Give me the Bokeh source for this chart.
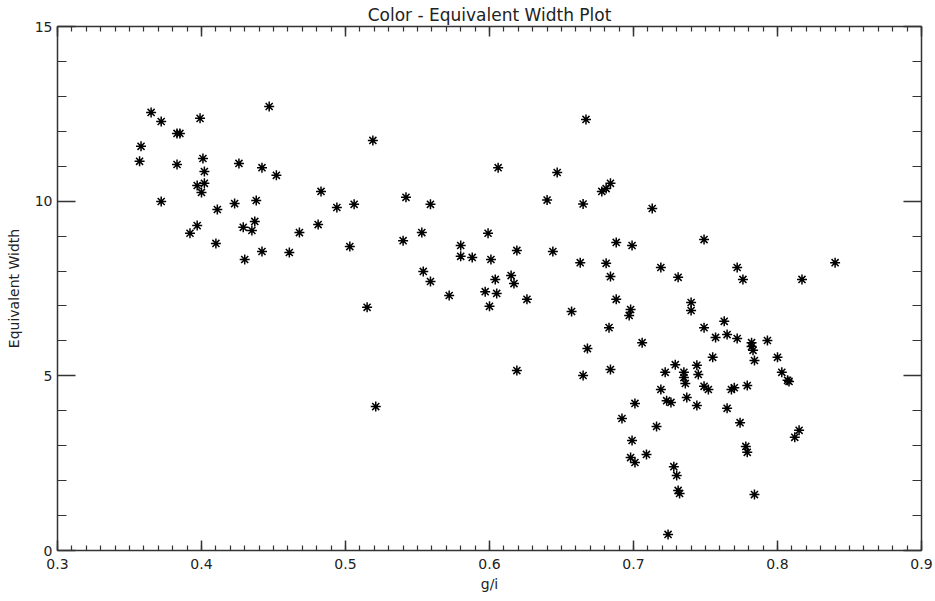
from bokeh.plotting import figure
from bokeh.models import Range1d, LinearAxis, FixedTicker
from bokeh.embed import file_html
from bokeh.resources import INLINE

# g/i colour values
gi = [0.358, 0.357, 0.365, 0.372, 0.383, 0.385, 0.399, 0.447, 0.383, 0.401,
      0.402, 0.426, 0.442, 0.452, 0.397, 0.402, 0.400, 0.483, 0.372, 0.411,
      0.423, 0.438, 0.397, 0.392, 0.429, 0.435, 0.437, 0.468, 0.481, 0.410,
      0.442, 0.430, 0.461,
      0.519, 0.667, 0.606, 0.647, 0.678, 0.681, 0.684, 0.640, 0.494, 0.506,
      0.542, 0.559, 0.665, 0.503, 0.540, 0.553, 0.599, 0.580, 0.580, 0.588,
      0.601, 0.619, 0.644, 0.663, 0.681, 0.688, 0.684, 0.554, 0.559, 0.604,
      0.615, 0.617, 0.572, 0.597, 0.605, 0.626, 0.600, 0.515, 0.657, 0.688,
      0.683, 0.668, 0.619, 0.665, 0.684, 0.521,
      0.713, 0.699, 0.749, 0.719, 0.731, 0.772, 0.776, 0.817, 0.840, 0.698,
      0.697, 0.740, 0.740, 0.749, 0.763, 0.757, 0.765, 0.772, 0.782, 0.782,
      0.783, 0.793, 0.706, 0.755, 0.784, 0.800, 0.803, 0.807, 0.808, 0.722,
      0.729, 0.735, 0.735, 0.736, 0.744, 0.745, 0.749, 0.752, 0.768, 0.770,
      0.779, 0.719, 0.723, 0.726, 0.737, 0.744, 0.765, 0.774, 0.692, 0.701,
      0.716, 0.699, 0.778, 0.779, 0.812, 0.815, 0.698, 0.701, 0.709, 0.728,
      0.730, 0.731, 0.732, 0.784, 0.724]

# equivalent width values
ew = [11.57, 11.14, 12.54, 12.28, 11.94, 11.94, 12.37, 12.71, 11.05, 11.22,
      10.85, 11.08, 10.96, 10.74, 10.45, 10.51, 10.25, 10.28, 9.99, 9.76,
      9.93, 10.02, 9.30, 9.08, 9.25, 9.16, 9.42, 9.10, 9.33, 8.79,
      8.56, 8.33, 8.53,
      11.74, 12.34, 10.96, 10.82, 10.28, 10.36, 10.51, 10.03, 9.82, 9.91,
      10.11, 9.91, 9.92, 8.70, 8.87, 9.10, 9.08, 8.73, 8.42, 8.39,
      8.33, 8.59, 8.56, 8.24, 8.22, 8.82, 7.84, 7.99, 7.70, 7.76,
      7.87, 7.64, 7.30, 7.41, 7.36, 7.19, 6.99, 6.96, 6.84, 7.19,
      6.38, 5.78, 5.15, 5.01, 5.18, 4.12,
      9.79, 8.73, 8.90, 8.10, 7.82, 8.10, 7.76, 7.76, 8.24, 6.90,
      6.73, 7.10, 6.87, 6.38, 6.56, 6.10, 6.18, 6.07, 5.95, 5.84,
      5.73, 6.01, 5.95, 5.53, 5.44, 5.53, 5.10, 4.87, 4.84, 5.10,
      5.32, 5.10, 4.95, 4.78, 5.30, 5.04, 4.70, 4.61, 4.61, 4.66,
      4.72, 4.61, 4.29, 4.24, 4.38, 4.15, 4.07, 3.66, 3.78, 4.21,
      3.55, 3.15, 2.98, 2.81, 3.24, 3.44, 2.66, 2.52, 2.75, 2.40,
      2.15, 1.72, 1.63, 1.60, 0.46]

x_ticks = [0.3, 0.4, 0.5, 0.6, 0.7, 0.8, 0.9]
x_tick_labels = ["0.3", "0.4", "0.5", "0.6", "0.7", "0.8", "0.9"]
x_minor = [round(0.3 + i * 0.01, 2) for i in range(61)]
y_ticks = [0, 5, 10, 15]
y_tick_labels = ["0", "5", "10", "15"]
y_minor = list(range(16))

TXT = "#222222"
AX = "#333333"
FONT = "DejaVu Sans"

p = figure(width=935, height=601, output_backend="svg", toolbar_location=None,
           x_range=Range1d(0.3, 0.9), y_range=Range1d(0, 15),
           min_border_left=57, min_border_right=14, min_border_top=0,
           min_border_bottom=51, x_axis_label="g/i", y_axis_label="Equivalent Width",
           title="Color - Equivalent Width Plot")
p.outline_line_color = None
p.grid.visible = False
p.background_fill_color = "white"
p.border_fill_color = "white"
p.title.align = "center"
p.title.text_font = FONT
p.title.text_font_size = "17px"
p.title.text_font_style = "normal"
p.title.text_color = TXT
p.title.standoff = 4
p.title.offset = 0

xt = FixedTicker(ticks=x_ticks, minor_ticks=x_minor)
yt = FixedTicker(ticks=y_ticks, minor_ticks=y_minor)

def style(ax, ticker, labels, ticks, show, tin, tmin):
    ax.ticker = ticker
    ax.axis_line_color = AX
    ax.axis_line_width = 1.5
    ax.major_tick_line_color = AX
    ax.minor_tick_line_color = AX
    ax.major_tick_line_width = 1.5
    ax.minor_tick_line_width = 1.2
    ax.major_tick_in = tin
    ax.major_tick_out = 0
    ax.minor_tick_in = tmin
    ax.minor_tick_out = 0
    if show:
        ax.major_label_overrides = {t: l for t, l in zip(ticks, labels)}
        ax.major_label_text_font = FONT
        ax.major_label_text_font_size = "14px"
        ax.major_label_text_color = TXT
        ax.axis_label_text_font = FONT
        ax.axis_label_text_font_size = "14px"
        ax.axis_label_text_font_style = "normal"
        ax.axis_label_text_color = TXT
    else:
        ax.major_label_overrides = {t: "" for t in ticks}
        ax.major_label_standoff = 0

xa = p.xaxis[0]
style(xa, xt, x_tick_labels, x_ticks, True, 10, 5)
xa.major_label_standoff = 8
xa.axis_label_standoff = 4
ya = p.yaxis[0]
style(ya, yt, y_tick_labels, y_ticks, True, 18, 9)
ya.major_label_standoff = 5
ya.axis_label_standoff = 10

top = LinearAxis()
style(top, xt, x_tick_labels, x_ticks, False, 10, 5)
p.add_layout(top, "above")
right = LinearAxis()
style(right, yt, y_tick_labels, y_ticks, False, 18, 9)
p.add_layout(right, "right")

p.scatter(gi, ew, marker="asterisk", size=10, line_color="black", line_width=1.5)

open("out.html", "w").write(file_html(p, INLINE))
